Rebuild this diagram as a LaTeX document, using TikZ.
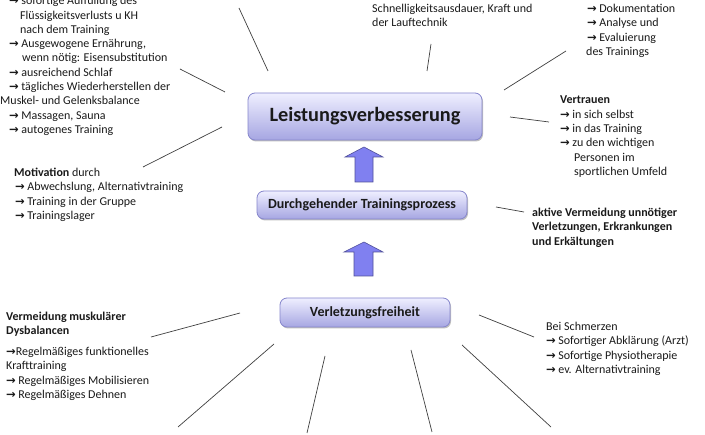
\documentclass[tikz,border=0pt]{standalone}
\usepackage{fontspec}
\setmainfont{Carlito}
\newfontfamily\arrowfont{DejaVu Sans}
\usetikzlibrary{shadows}
\newcommand{\myarrglyph}{{\arrowfont\bfseries\fontsize{11.5}{10}\selectfont →}}
\newcommand{\myarr}{\myarrglyph\hspace{2.5pt}}
\definecolor{boxtop}{HTML}{EFEFFF}
\definecolor{boxbot}{HTML}{A6A6E2}
\definecolor{boxline}{HTML}{8686CC}
\definecolor{arrfill}{HTML}{8080F0}
\definecolor{arrline}{HTML}{50509A}
\definecolor{ink}{HTML}{1A1A1A}
\definecolor{conn}{HTML}{404040}
\tikzset{
  txt/.style={font=\fontsize{12}{14.3}\selectfont, align=left, inner sep=0pt, anchor=base west, text=ink},
  mainbox/.style={rounded corners=7pt, draw=boxline, line width=0.8pt, top color=boxtop, bottom color=boxbot,
    drop shadow={shadow xshift=1pt, shadow yshift=-1.5pt, fill=black, opacity=0.25}, text=ink, inner sep=0pt},
  blockarrow/.style={fill=arrfill, draw=arrline, line width=0.6pt},
  connector/.style={draw=conn, line width=0.7pt}
}
\begin{document}
\begin{tikzpicture}[x=1pt,y=-1pt]
\useasboundingbox (0,0) rectangle (705,435);
\fill[white] (0,0) rectangle (705,435);

% central boxes
\node[mainbox, minimum width=234pt, minimum height=47pt, font=\fontsize{20.3}{22}\selectfont\bfseries] (lv) at (365,116.5) {Leistungsverbesserung};
\node[mainbox, minimum width=210pt, minimum height=28pt, font=\fontsize{14}{15}\selectfont\bfseries] (dtp) at (362,205) {Durchgehender Trainingsprozess};
\node[mainbox, minimum width=170pt, minimum height=29pt, font=\fontsize{14}{15}\selectfont\bfseries] (vf) at (365,312.5) {Verletzungsfreiheit};

% block arrows
\draw[blockarrow] (355,182) -- (355,157) -- (345,157) -- (364,147) -- (383,157) -- (373,157) -- (373,182) -- cycle;
\draw[blockarrow] (354,276) -- (354,252) -- (344,252) -- (364,242) -- (383,252) -- (373,252) -- (373,276) -- cycle;

% text blocks (anchor = baseline of last line)
\node[txt] (tl) at (0,133.5) {\hspace*{9pt}\myarr sofortige Auffüllung des\\
\hspace*{20pt}Flüssigkeitsverlusts u KH\\
\hspace*{20pt}nach dem Training\\
\hspace*{9pt}\myarr Ausgewogene Ernährung,\\
\hspace*{22pt}wenn nötig: Eisensubstitution\\
\hspace*{9pt}\myarr ausreichend Schlaf\\
\hspace*{9pt}\myarr tägliches Wiederherstellen der\\
Muskel- und Gelenksbalance\\
\hspace*{9pt}\myarr Massagen, Sauna\\
\hspace*{9pt}\myarr autogenes Training};

\node[txt] (mot) at (14,219.5) {\textbf{Motivation} durch\\
\hspace*{1pt}\myarr Abwechslung, Alternativtraining\\
\hspace*{1pt}\myarr Training in der Gruppe\\
\hspace*{1pt}\myarr Trainingslager};

\node[txt] (tm) at (372,26.5) {Schnelligkeitsausdauer, Kraft und\\der Lauftechnik};

\node[txt] (tr) at (586,55.5) {\hspace*{1pt}\myarr Dokumentation\\
\hspace*{1pt}\myarr Analyse und\\
\hspace*{1pt}\myarr Evaluierung\\
des Trainings};

\node[txt] (ver) at (560,175.5) {\textbf{Vertrauen}\\
\myarr in sich selbst\\
\myarr in das Training\\
\myarr zu den wichtigen\\
\hspace*{14pt}Personen im\\
\hspace*{14pt}sportlichen Umfeld};

\node[txt, font=\fontsize{12}{14.6}\selectfont\bfseries] (akt) at (532,245.5) {aktive Vermeidung unnötiger\\
Verletzungen, Erkrankungen\\
und Erkältungen};

\node[txt] (bs) at (546,373.5) {Bei Schmerzen\\
\myarr Sofortiger Abklärung (Arzt)\\
\myarr Sofortige Physiotherapie\\
\myarr ev. Alternativtraining};

\node[txt] (vm) at (6,398.5) {\textbf{Vermeidung muskulärer}\\
\textbf{Dysbalancen}\\[6.5pt]
\myarrglyph Regelmäßiges funktionelles\\
Krafttraining\\
\myarr Regelmäßiges Mobilisieren\\
\myarr Regelmäßiges Dehnen};

% connector end points
\coordinate (a1) at (239,8);   \coordinate (a2) at (268,71);
\coordinate (b1) at (180,69);  \coordinate (b2) at (225,92);
\coordinate (c1) at (143,167); \coordinate (c2) at (222,127);
\coordinate (d1) at (431,44);  \coordinate (d2) at (427,71);
\coordinate (e1) at (566,51);  \coordinate (e2) at (504,90);
\coordinate (f1) at (510,117); \coordinate (f2) at (549,122);
\coordinate (g1) at (496,207); \coordinate (g2) at (524,212);
\coordinate (h1) at (479,315); \coordinate (h2) at (534,337);
\coordinate (i1) at (462,345); \coordinate (i2) at (551,427);
\coordinate (j1) at (411,350); \coordinate (j2) at (432,432);
\coordinate (k1) at (325,356); \coordinate (k2) at (307,433);
\coordinate (l1) at (274,344); \coordinate (l2) at (178,427);
\coordinate (m1) at (240,313); \coordinate (m2) at (151,337);

\foreach \p in {a,b,c,d,e,f,g,h,i,j,k,l,m}{\draw[connector] (\p1) -- (\p2);}
\end{tikzpicture}
\end{document}
